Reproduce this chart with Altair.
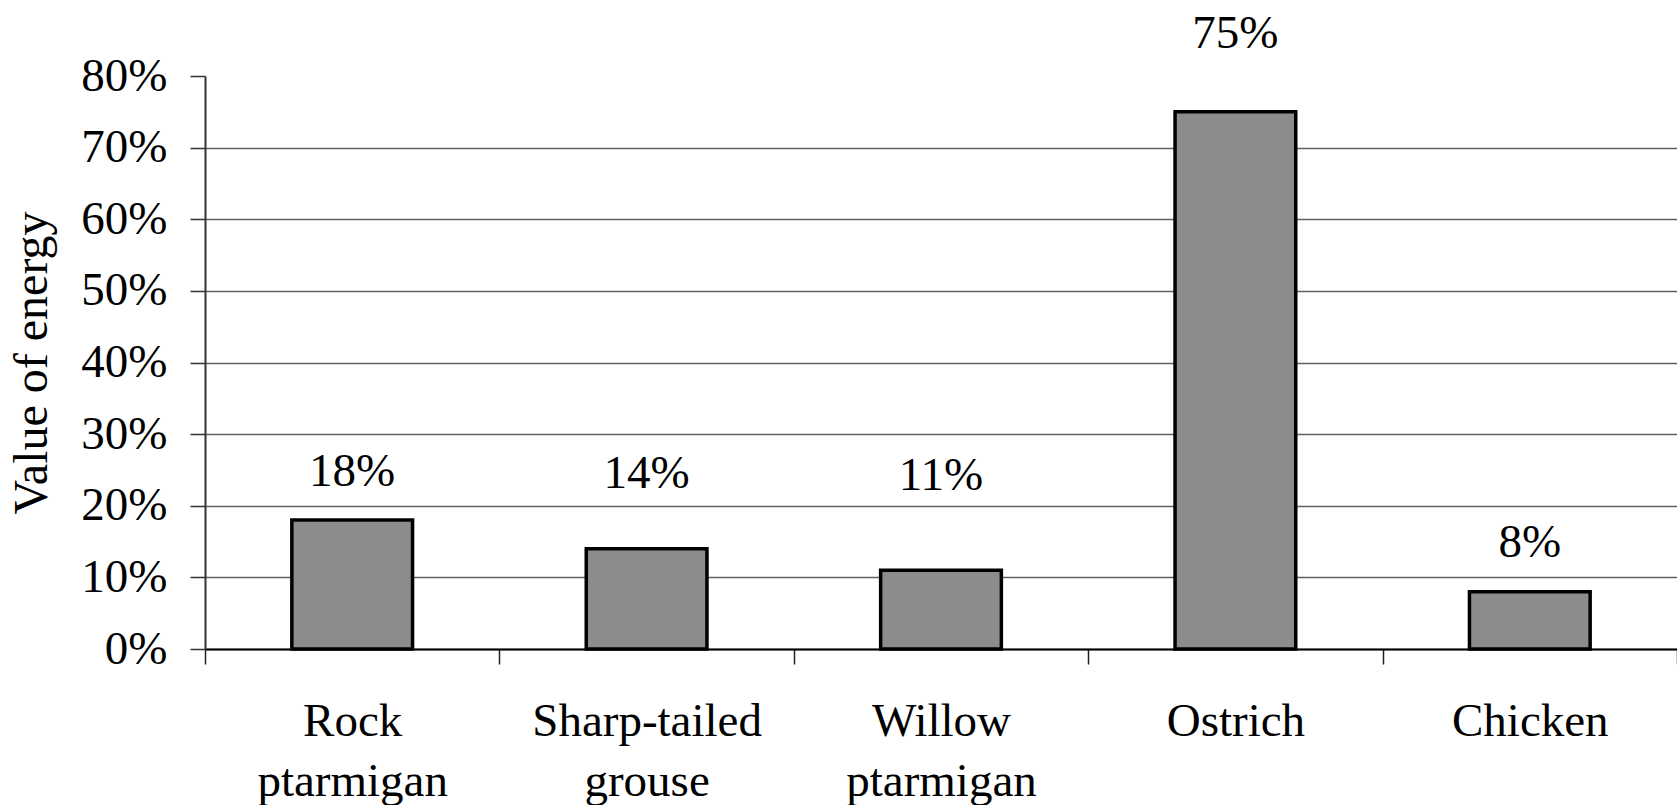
import altair as alt
import pandas as pd

# ---- data ----
categories = ["Rock ptarmigan", "Sharp-tailed grouse", "Willow ptarmigan", "Ostrich", "Chicken"]
values = [0.18, 0.14, 0.11, 0.75, 0.08]
y_ticks = [0, 0.1, 0.2, 0.3, 0.4, 0.5, 0.6, 0.7, 0.8]
y_title = "Value of energy"

df = pd.DataFrame({"species": categories, "value": values})

# ---- style ----
FONT = "Liberation Serif, Times New Roman, Times, DejaVu Serif, serif"
FS = 47
# vertical pixel offset of each data label above its bar top (manual placement in the original)
label_dy = {
    "Rock ptarmigan": -34,
    "Sharp-tailed grouse": -61,
    "Willow ptarmigan": -80,
    "Ostrich": -64,
    "Chicken": -35,
}

x_enc = alt.X(
    "species:N",
    sort=categories,
    title=None,
    scale=alt.Scale(paddingInner=0, paddingOuter=0),
    axis=alt.Axis(
        labelAngle=0,
        labelExpr="split(datum.label, ' ')",
        labelFont=FONT,
        labelFontSize=FS,
        labelColor="black",
        labelPadding=34,
        labelLineHeight=60,
        labelLimit=1000,
        tickBand="extent",
        tickSize=15,
        tickColor="#222222",
        tickWidth=1.5,
        domainColor="black",
        domainWidth=2,
        grid=False,
    ),
)

y_enc = alt.Y(
    "value:Q",
    scale=alt.Scale(domain=[0, 0.8], nice=False, zero=True),
    axis=alt.Axis(
        values=y_ticks,
        format=".0%",
        title=y_title,
        titleFont=FONT,
        titleFontSize=48,
        titleFontWeight="normal",
        titleColor="black",
        titlePadding=24,
        labelFont=FONT,
        labelFontSize=FS,
        labelColor="black",
        labelPadding=23,
        labelLimit=1000,
        tickSize=15,
        tickColor="#333333",
        tickWidth=1.5,
        domainColor="#333333",
        domainWidth=2,
        grid=True,
        gridColor="#606060",
        gridWidth=1.5,
        gridOpacity={"condition": {"test": "datum.value > 0.75", "value": 0}, "value": 1},
    ),
)

base = alt.Chart(df)

bars = base.mark_bar(
    width=alt.RelativeBandSize(0.41),
    color="#8c8c8c",
    stroke="black",
    strokeWidth=3.5,
).encode(x=x_enc, y=y_enc)

label_layers = []
for cat in categories:
    label_layers.append(
        base.transform_filter(alt.datum.species == cat)
        .mark_text(font=FONT, fontSize=FS, color="black", baseline="alphabetic", dy=label_dy[cat])
        .encode(
            x=alt.X("species:N", sort=categories),
            y=alt.Y("value:Q"),
            text=alt.Text("value:Q", format=".0%"),
        )
    )

chart = (
    alt.layer(bars, *label_layers)
    .properties(
        width=1472,
        height=573,
        autosize=alt.AutoSizeParams(type="none"),
        padding={"left": 205, "top": 76, "right": 0, "bottom": 156},
        background="white",
    )
    .configure_view(stroke=None)
)

chart.save("out.html", embed_options={"renderer": "svg", "actions": False})
